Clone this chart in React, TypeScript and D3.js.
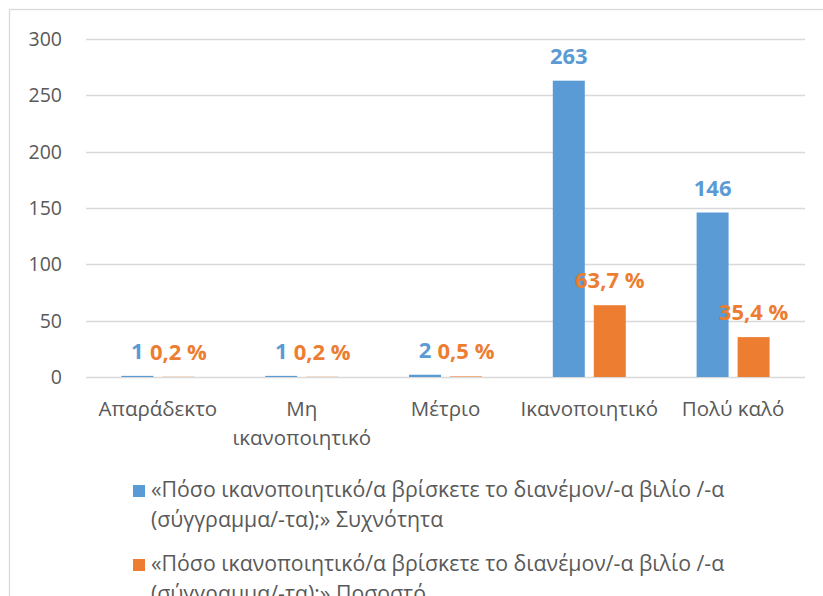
import { useEffect, useRef } from "react";
import * as d3 from "d3";

const categories = ["Απαράδεκτο", "Μη ικανοποιητικό", "Μέτριο", "Ικανοποιητικό", "Πολύ καλό"];
const frequency = [1, 1, 2, 263, 146];
const percent = [0.2, 0.2, 0.5, 63.7, 35.4];
const seriesNames = [
  "«Πόσο ικανοποιητικό/α βρίσκετε το διανέμον/-α βιλίο /-α (σύγγραμμα/-τα);» Συχνότητα",
  "«Πόσο ικανοποιητικό/α βρίσκετε το διανέμον/-α βιλίο /-α (σύγγραμμα/-τα);» Ποσοστό",
];
const yTicks = [0, 50, 100, 150, 200, 250, 300];

const W = 823;
const H = 596;
const colors = ["#5B9BD5", "#ED7D31"];
const textColor = "#595959";
const gridColor = "#D9D9D9";
const font = "'Open Sans', sans-serif";

// splits text into lines that fit maxWidth
function wrap(textSel: d3.Selection<SVGTextElement, unknown, null, undefined>, str: string, maxWidth: number, lineHeight: number, x: number) {
  const words = str.split(" ");
  let line: string[] = [];
  let tspan = textSel.append("tspan").attr("x", x).attr("dy", 0);
  words.forEach((w) => {
    line.push(w);
    tspan.text(line.join(" "));
    if ((tspan.node() as SVGTSpanElement).getComputedTextLength() > maxWidth && line.length > 1) {
      line.pop();
      tspan.text(line.join(" "));
      line = [w];
      tspan = textSel.append("tspan").attr("x", x).attr("dy", lineHeight).text(w);
    }
  });
}

const Chart = () => {
  const ref = useRef<SVGSVGElement>(null);

  useEffect(() => {
    const svg = d3.select(ref.current);
    svg.selectAll("*").remove();

    // outer chart border (right/bottom edges fall outside the picture)
    svg
      .append("rect")
      .attr("x", 9.5)
      .attr("y", 9.5)
      .attr("width", 900)
      .attr("height", 900)
      .attr("fill", "white")
      .attr("stroke", gridColor)
      .attr("stroke-width", 1.3);

    const x0 = d3.scaleBand<string>().domain(categories).range([86, 805]);
    const groupW = 73;
    const x1 = d3
      .scaleBand<number>()
      .domain([0, 1])
      .range([(x0.bandwidth() - groupW) / 2, (x0.bandwidth() + groupW) / 2])
      .paddingInner(0.22);
    const y = d3.scaleLinear().domain([0, 300]).range([377, 39]);

    // grid
    svg
      .append("g")
      .selectAll("line")
      .data(yTicks)
      .enter()
      .append("line")
      .attr("x1", 86)
      .attr("x2", 805)
      .attr("y1", (d) => Math.round(y(d)) + 0.5)
      .attr("y2", (d) => Math.round(y(d)) + 0.5)
      .attr("stroke", gridColor)
      .attr("stroke-width", 1.3);

    svg
      .append("g")
      .selectAll("text")
      .data(yTicks)
      .enter()
      .append("text")
      .attr("x", 62)
      .attr("y", (d) => y(d))
      .attr("dy", "0.36em")
      .attr("text-anchor", "end")
      .attr("font-family", font)
      .attr("font-size", 19.5)
      .attr("fill", textColor)
      .text((d) => d);

    const series = [frequency, percent];

    // bars
    series.forEach((vals, si) => {
      svg
        .append("g")
        .selectAll("rect")
        .data(vals)
        .enter()
        .append("rect")
        .attr("x", (_, i) => x0(categories[i])! + x1(si)!)
        .attr("y", (d) => y(d))
        .attr("width", x1.bandwidth())
        .attr("height", (d) => y(0) - y(d))
        .attr("fill", colors[si]);
    });

    // data labels
    series.forEach((vals, si) => {
      svg
        .append("g")
        .selectAll("text")
        .data(vals)
        .enter()
        .append("text")
        .attr("x", (_, i) => x0(categories[i])! + x1(si)! + x1.bandwidth() / 2)
        .attr("y", (d) => y(d) - 17)
        .attr("text-anchor", "middle")
        .attr("font-family", font)
        .attr("font-weight", "bold")
        .attr("font-size", 22)
        .attr("fill", colors[si])
        .text((d) => (si === 0 ? String(d) : d.toFixed(1).replace(".", ",") + " %"));
    });

    // category labels
    categories.forEach((c) => {
      const cx = x0(c)! + x0.bandwidth() / 2;
      const t = svg
        .append("text")
        .attr("y", 416)
        .attr("text-anchor", "middle")
        .attr("font-family", font)
        .attr("font-size", 20.5)
        .attr("fill", textColor);
      wrap(t as any, c, x0.bandwidth() - 4, 28.5, cx);
    });

    // legend
    seriesNames.forEach((name, si) => {
      const base = 497 + si * 74;
      svg
        .append("rect")
        .attr("x", 133)
        .attr("y", base - 12)
        .attr("width", 12)
        .attr("height", 12)
        .attr("fill", colors[si]);
      const t = svg
        .append("text")
        .attr("y", base)
        .attr("font-family", font)
        .attr("font-size", 21.3)
        .attr("fill", textColor);
      wrap(t as any, name, 600, 30, 151);
    });
  }, []);

  return (
    <svg
      ref={ref}
      width={W}
      height={H}
      style={{ position: "absolute", left: 0, top: 0, background: "white" }}
    />
  );
};

export default function App() {
  return <Chart />;
}
